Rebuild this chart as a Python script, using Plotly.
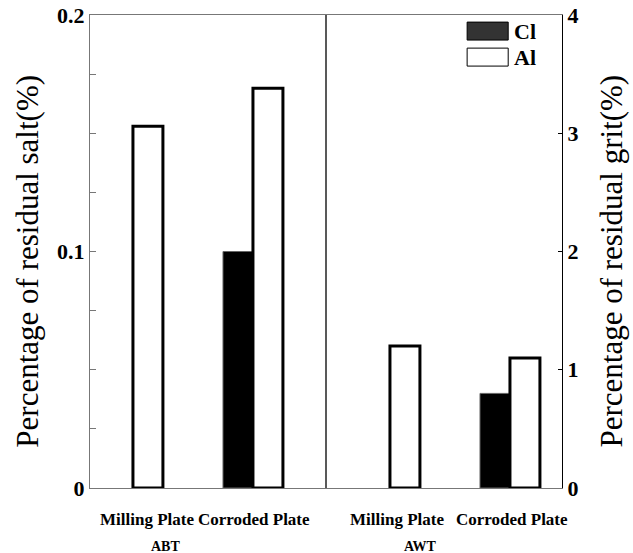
import plotly.graph_objects as go

# ---- data ----
groups = ["ABT", "AWT"]
plates = ["Milling Plate", "Corroded Plate"]
abt_cl = [None, 0.100]      # residual salt (%), left axis
abt_al = [0.153, 0.169]
awt_cl = [None, 0.80]       # residual grit (%), right axis
awt_al = [1.20, 1.10]
left_ticks = [0, 0.1, 0.2]
left_tick_labels = ["0", "0.1", "0.2"]
right_ticks = [0, 1, 2, 3, 4]
right_tick_labels = ["0", "1", "2", "3", "4"]

# ---- layout geometry (x axis spans 0..4, divider at 2) ----
abt_x = [0.364, 1.381]
awt_x = [2.542, 3.559]
bw = 0.254
label_x = {"ABT": [0.48, 1.39], "AWT": [2.6, 3.58]}
group_label_x = {"ABT": 0.64, "AWT": 2.8}

serif = "Liberation Serif, Times New Roman, serif"

fig = go.Figure()
cl_style = dict(color="#000000", line=dict(color="#666666", width=1))
al_style = dict(color="#ffffff", line=dict(color="#000000", width=3))

fig.add_trace(go.Bar(x=abt_x, y=abt_cl, width=bw, offset=-bw, marker=cl_style,
                     name="Cl", yaxis="y", showlegend=False))
fig.add_trace(go.Bar(x=abt_x, y=abt_al, width=bw, offset=0, marker=al_style,
                     name="Al", yaxis="y", showlegend=False))
fig.add_trace(go.Bar(x=awt_x, y=awt_cl, width=bw, offset=-bw, marker=cl_style,
                     name="Cl", yaxis="y2", showlegend=False))
fig.add_trace(go.Bar(x=awt_x, y=awt_al, width=bw, offset=0, marker=al_style,
                     name="Al", yaxis="y2", showlegend=False))

annotations = []
for g in groups:
    for px, lab in zip(label_x[g], plates):
        annotations.append(dict(x=px, y=0, xref="x", yref="paper", text=lab,
                                showarrow=False, yanchor="top", yshift=-20,
                                font=dict(family=serif, size=17, color="black", weight="bold")))
    annotations.append(dict(x=group_label_x[g], y=0, xref="x", yref="paper", text=g,
                            showarrow=False, yanchor="top", yshift=-49,
                            font=dict(family=serif, size=14, color="black", weight="bold")))

# axis titles
annotations.append(dict(x=-0.132, y=0.48, xref="paper", yref="paper",
                        text="Percentage of residual salt(%)", textangle=-90,
                        showarrow=False, xanchor="center", yanchor="middle",
                        font=dict(family=serif, size=31, color="black")))
annotations.append(dict(x=1.105, y=0.48, xref="paper", yref="paper",
                        text="Percentage of residual grit(%)", textangle=-90,
                        showarrow=False, xanchor="center", yanchor="middle",
                        font=dict(family=serif, size=31, color="black")))

# legend (custom)
leg_x0, leg_x1 = 0.799, 0.886
shapes = [
    dict(type="line", x0=2, x1=2, y0=0, y1=1, xref="x", yref="paper",
         line=dict(color="#222222", width=1.5)),
    dict(type="rect", x0=leg_x0, x1=leg_x1, y0=0.947, y1=0.985, xref="paper", yref="paper",
         fillcolor="#333333", line=dict(color="#000000", width=1)),
    dict(type="rect", x0=leg_x0, x1=leg_x1, y0=0.892, y1=0.930, xref="paper", yref="paper",
         fillcolor="#ffffff", line=dict(color="#000000", width=1)),
]
for yy, t in [(0.966, "Cl"), (0.911, "Al")]:
    annotations.append(dict(x=0.895, y=yy, xref="paper", yref="paper", text=t,
                            showarrow=False, xanchor="left", yanchor="middle",
                            font=dict(family=serif, size=22, color="black", weight="bold")))

fig.update_layout(
    width=633, height=553,
    margin=dict(l=90, r=71, t=15, b=65),
    paper_bgcolor="white", plot_bgcolor="white",
    barmode="overlay",
    showlegend=False,
    xaxis=dict(range=[0, 4], showline=True, mirror=True, linecolor="#777777", linewidth=1,
               showgrid=False, zeroline=False, showticklabels=False, ticks="", automargin=False),
    yaxis=dict(range=[0, 0.2], tickvals=left_ticks, ticktext=left_tick_labels, automargin=False,
               showline=True, linecolor="#777777", linewidth=1, showgrid=False, zeroline=False,
               ticks="inside", ticklen=6, tickcolor="#777777",
               minor=dict(dtick=0.025, ticks="inside", ticklen=6, tickcolor="#777777", showgrid=False),
               tickfont=dict(family=serif, size=22, color="black", weight="bold")),
    yaxis2=dict(range=[0, 4], tickvals=right_ticks, ticktext=right_tick_labels, automargin=False,
                overlaying="y", side="right", anchor="x",
                showline=True, linecolor="#000000", linewidth=1, showgrid=False, zeroline=False,
                ticks="inside", ticklen=4, tickcolor="#000000", ticklabelstandoff=0,
                tickfont=dict(family=serif, size=22, color="black", weight="bold")),
    annotations=annotations,
    shapes=shapes,
)

fig.write_html("out.html", config={"responsive": False, "displayModeBar": False},
               post_script="document.body.style.margin='0';document.body.style.overflow='hidden';")
